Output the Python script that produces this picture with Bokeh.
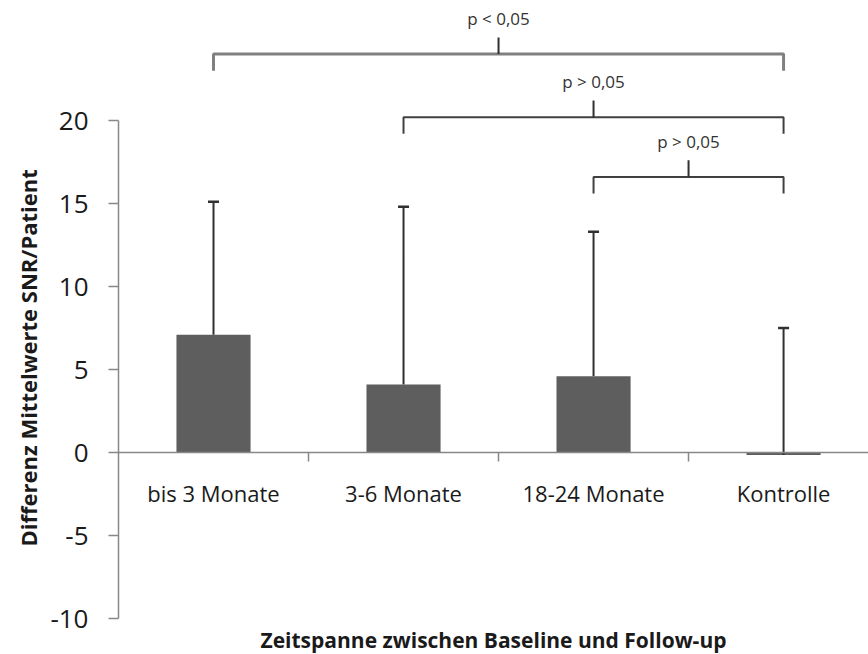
from bokeh.plotting import figure
from bokeh.models import (Range1d, FixedTicker, Title, ColumnDataSource)
from bokeh.core.properties import value
from bokeh.embed import file_html
from bokeh.resources import INLINE

# Mean change in SNR per patient by follow-up interval, with positive SD whiskers
categories = ["bis 3 Monate", "3-6 Monate", "18-24 Monate", "Kontrolle"]
means = [7.1, 4.1, 4.6, -0.15]
sd = [8.0, 10.7, 8.7, 7.65]

# Significance comparisons (category index pairs and their p statements)
cmp_left = [0, 1, 2]
cmp_right = [3, 3, 3]
cmp_level = [24.0, 20.2, 16.6]
cmp_text = ["p < 0,05", "p > 0,05", "p > 0,05"]

y_ticks = [-10, -5, 0, 5, 10, 15, 20]

FONT = "Open Sans"

xs = list(range(len(categories)))
upper = [m + s for m, s in zip(means, sd)]

p = figure(
    frame_width=750, frame_height=618,
    x_range=Range1d(-0.5, 3.447), y_range=Range1d(-10, 27.23),
    output_backend="svg", toolbar_location=None,
    min_border_left=118, min_border_right=0, min_border_top=0, min_border_bottom=0,
)
p.outline_line_color = None
p.xgrid.visible = False
p.ygrid.visible = False
p.background_fill_color = "white"
p.border_fill_color = "white"

# bars
src = ColumnDataSource(dict(x=xs, top=means, upper=upper,
                            cl=[x - 0.029 for x in xs], cr=[x + 0.029 for x in xs]))
p.vbar(x="x", top="top", bottom=0, width=0.39, source=src,
       fill_color="#5e5e5e", line_color=None)

# error whiskers (upper only) with caps
p.segment(x0="x", y0="top", x1="x", y1="upper", source=src,
          line_color="#303030", line_width=2)
p.segment(x0="cl", y0="upper", x1="cr", y1="upper", source=src,
          line_color="#303030", line_width=2.5)

# comparison brackets
drop = 1.0
for i, (l, r, lev, txt) in enumerate(zip(cmp_left, cmp_right, cmp_level, cmp_text)):
    col = "#808080" if i == 0 else "#404040"
    lw = 3 if i == 0 else 2
    p.line(x=[l, l, r, r], y=[lev - drop, lev, lev, lev - drop],
           line_color=col, line_width=lw)
    mid = (l + r) / 2
    p.segment(x0=[mid], y0=[lev], x1=[mid], y1=[lev + drop],
              line_color="#303030", line_width=2)
    p.text(x=[mid], y=[lev + drop + 0.45], text=[txt],
           text_font=value(FONT), text_font_size="17px", text_color="#333333",
           text_align="center", text_baseline="bottom")

# y axis
ya = p.yaxis[0]
ya.bounds = (-10, 20)
ya.ticker = FixedTicker(ticks=y_ticks, minor_ticks=[])
ya.major_label_overrides = {t: str(t) for t in y_ticks}
ya.axis_line_color = "#888888"
ya.axis_line_width = 1.5
ya.major_tick_line_color = "#888888"
ya.major_tick_line_width = 1.5
ya.major_tick_out = 10
ya.major_tick_in = 0
ya.minor_tick_out = 0
ya.major_label_standoff = 20
ya.major_label_text_font = FONT
ya.major_label_text_font_size = "26px"
ya.major_label_text_color = "#1a1a1a"

# x axis sitting on the zero line
xa = p.xaxis[0]
xa.fixed_location = 0
xa.ticker = FixedTicker(ticks=xs, minor_ticks=[0.5, 1.5, 2.5])
xa.major_label_overrides = {i: c for i, c in enumerate(categories)}
xa.axis_line_color = "#888888"
xa.axis_line_width = 1.5
xa.major_tick_out = 0
xa.major_tick_in = 0
xa.minor_tick_out = 9
xa.minor_tick_in = 0
xa.minor_tick_line_color = "#888888"
xa.minor_tick_line_width = 1.5
xa.major_label_standoff = 16
xa.major_label_text_font = FONT
xa.major_label_text_font_size = "22px"
xa.major_label_text_color = "#1a1a1a"

p.add_layout(Title(text="Zeitspanne zwischen Baseline und Follow-up", align="center",
                   text_font=FONT, text_font_size="21px", text_font_style="bold",
                   text_color="#1a1a1a"), "below")
p.add_layout(Title(text="Differenz  Mittelwerte  SNR/Patient", align="left",
                   offset=72,
                   text_font=FONT, text_font_size="22px", text_font_style="bold",
                   text_color="#1a1a1a"), "left")

open("out.html", "w").write(file_html(p, INLINE))
